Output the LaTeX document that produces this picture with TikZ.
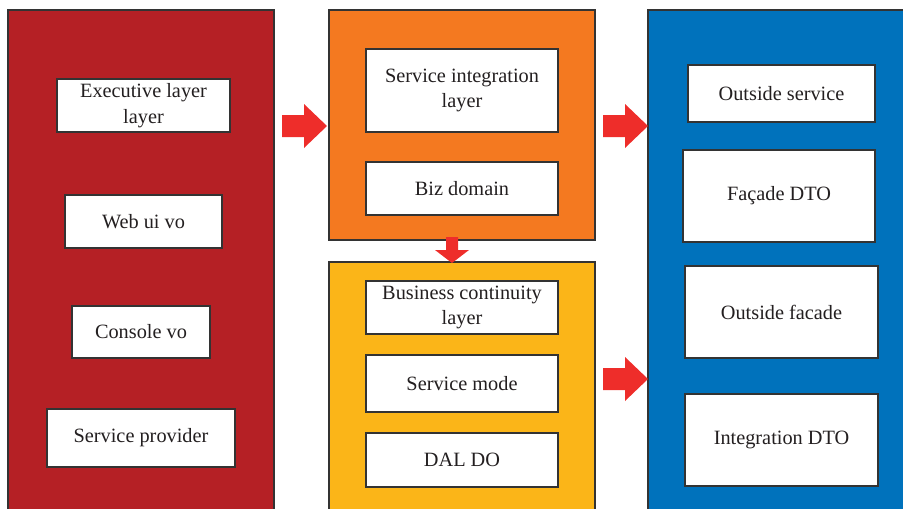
\documentclass[tikz,border=0pt]{standalone}
\usepackage{fontspec}
\setmainfont{Liberation Serif}
\definecolor{pred}{HTML}{B52025}
\definecolor{porange}{HTML}{F47920}
\definecolor{pyellow}{HTML}{FBB518}
\definecolor{pblue}{HTML}{0072BC}
\definecolor{arrred}{HTML}{EE2D2A}
\definecolor{edge}{HTML}{333333}
\definecolor{txt}{HTML}{231F20}
\tikzset{
  panel/.style={draw=edge, line width=1.5pt},
  box/.style={draw=edge, fill=white, line width=1.2pt, inner sep=0pt, align=center,
    text=txt, font=\fontsize{20.3}{25.5}\selectfont},
  blockarrow/.style={fill=arrred, draw=none},
}
\begin{document}
\begin{tikzpicture}[x=1pt, y=-1pt]
\useasboundingbox (0,0) rectangle (903,509);
\clip (0,0) rectangle (903,509);
% panels
\draw[panel, fill=pred] (8,10) rectangle (274,520);
\draw[panel, fill=porange] (329,10) rectangle (595,240);
\draw[panel, fill=pyellow] (329,262) rectangle (595,520);
\draw[panel, fill=pblue] (648,10) rectangle (915,520);
% red panel boxes
\node[box, minimum width=173pt, minimum height=53pt] (ex) at (143.5,105.5) {Executive layer\\layer};
\node[box, minimum width=157pt, minimum height=53pt] (web) at (143.5,221.5) {Web ui vo};
\node[box, minimum width=138pt, minimum height=52pt] (con) at (141,332) {Console vo};
\node[box, minimum width=188pt, minimum height=58pt] (sp) at (141,438) {Service provider};
% orange panel boxes
\node[box, minimum width=192pt, minimum height=83pt] (sil) at (462,90.5) {Service integration\\layer};
\node[box, minimum width=192pt, minimum height=53pt] (biz) at (462,188.5) {Biz domain};
% yellow panel boxes
\node[box, minimum width=192pt, minimum height=53pt] (bcl) at (462,307.5) {Business continuity\\layer};
\node[box, minimum width=192pt, minimum height=57pt] (sm) at (462,383.5) {Service mode};
\node[box, minimum width=192pt, minimum height=54pt] (dal) at (462,460) {DAL DO};
% blue panel boxes
\node[box, minimum width=187pt, minimum height=57pt] (os) at (781.5,93.5) {Outside service};
\node[box, minimum width=192pt, minimum height=92pt] (fd) at (779,196) {Façade DTO};
\node[box, minimum width=193pt, minimum height=92pt] (of) at (781.5,312) {Outside facade};
\node[box, minimum width=193pt, minimum height=92pt] (id) at (781.5,440) {Integration DTO};
% block arrows
\fill[blockarrow] (282,115) -- (304,115) -- (304,104) -- (327,126) -- (304,148) -- (304,137) -- (282,137) -- cycle;
\fill[blockarrow] (603,115) -- (625,115) -- (625,104) -- (648,126) -- (625,148) -- (625,137) -- (603,137) -- cycle;
\fill[blockarrow] (603,368) -- (625,368) -- (625,357) -- (648,379) -- (625,401) -- (625,390) -- (603,390) -- cycle;
\fill[blockarrow] (446,237) -- (458,237) -- (458,250) -- (469,250) -- (452,263) -- (435,250) -- (446,250) -- cycle;
\end{tikzpicture}
\end{document}
